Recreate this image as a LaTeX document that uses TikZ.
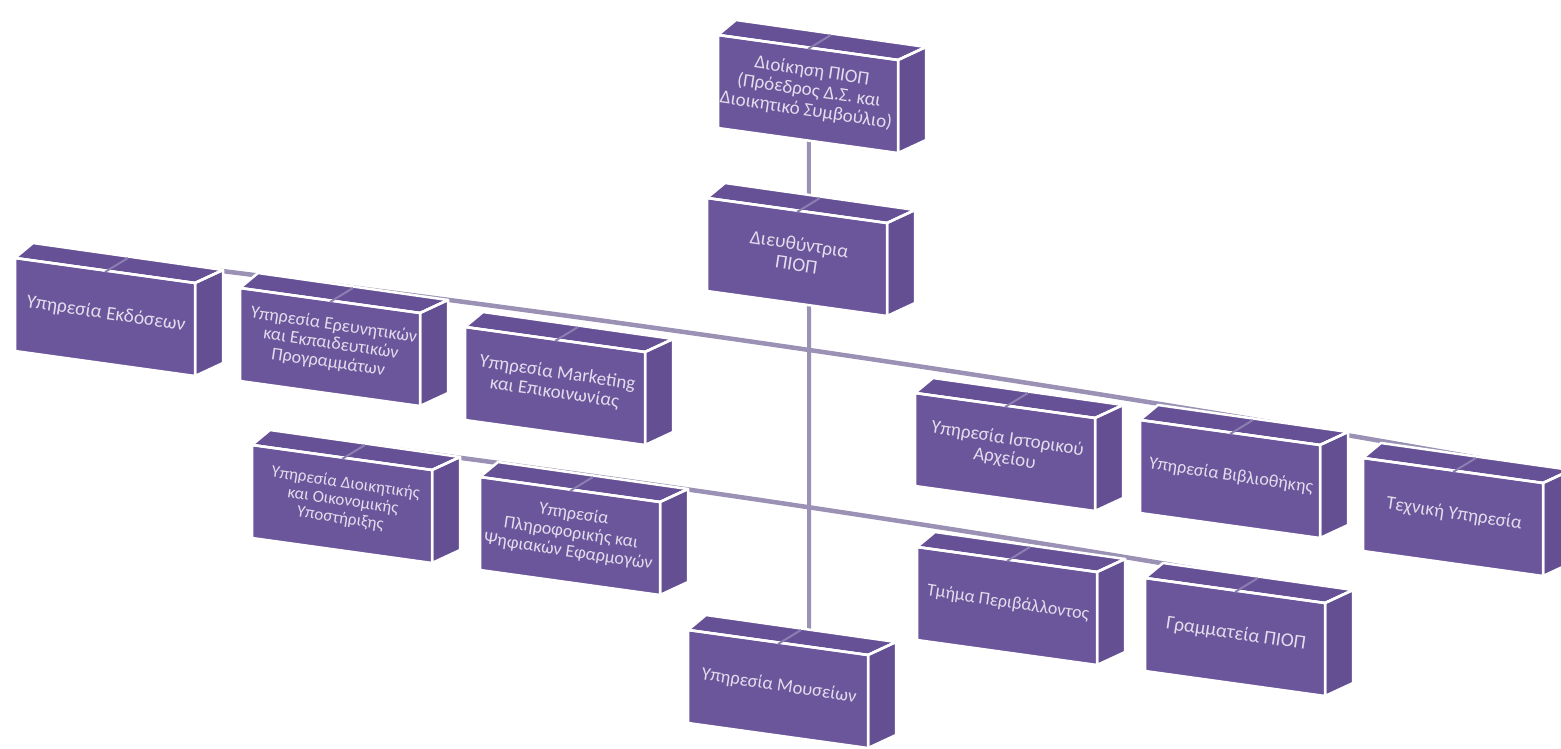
\documentclass[tikz,border=0pt]{standalone}
\usepackage{fontspec}
\setmainfont{Carlito}
\usepackage{tikz}
\usetikzlibrary{calc}
\usepackage{xcolor}

\definecolor{boxfront}{HTML}{6B559B}
\definecolor{boxtopc}{HTML}{665196}
\definecolor{boxside}{HTML}{644F93}
\definecolor{linkc}{HTML}{9A91B4}
\definecolor{dropc}{HTML}{8C7EB1}
\definecolor{labelc}{HTML}{E2DCEC}

\pgfdeclarelayer{back}
\pgfsetlayers{back,main}

\tikzset{
  face/.style={draw=white, line width=2.5pt, line join=round},
  boxtext/.style={text=labelc, align=center, rotate=-8.5, inner sep=0pt},
  bus/.style={draw=linkc, line width=4.5pt},
  trunk/.style={draw=linkc, line width=4pt},
  drop/.style={draw=dropc, line width=2pt}
}

% [font size] name, x, y (front top left corner), text
\newcommand{\orgbox}[5][18]{%
  \begin{scope}[shift={(#3,-#4)}]
    \fill[face, fill=boxtopc] (0,0) -- (18,15) -- (208,-12) -- (180,-25) -- cycle;
    \fill[face, fill=boxside] (180,-25) -- (208,-12) -- (208,-105) -- (180,-118) -- cycle;
    \fill[face, fill=boxfront] (0,0) -- (180,-25) -- (180,-118) -- (0,-93) -- cycle;
    \draw[face] (0,0) -- (180,-25) -- (208,-12);
    \draw[face] (180,-25) -- (180,-118);
    \draw[drop] (90,-14) -- (113,0);
    \node[boxtext, font=\fontsize{#1}{1.05\dimexpr#1pt\relax}\selectfont] (#2) at (91,-56) {#5};
  \end{scope}}

\begin{document}
\begin{tikzpicture}[x=1pt, y=1pt]
  \clip (0,0) rectangle (1561,-749);

  \orgbox[19]{dioikisi}{718}{35}{Διοίκηση ΠΙΟΠ\\(Πρόεδρος Δ.Σ. και\\Διοικητικό Συμβούλιο)}
  \orgbox[19.5]{dieuthyntria}{707}{198}{Διευθύντρια\\ΠΙΟΠ}

  \orgbox[19.5]{ekdoseis}{15}{258}{Υπηρεσία Εκδόσεων}
  \orgbox[18]{erevna}{240}{288}{Υπηρεσία Ερευνητικών\\και Εκπαιδευτικών\\Προγραμμάτων}
  \orgbox[19]{marketing}{465}{327}{Υπηρεσία Marketing\\και Επικοινωνίας}
  \orgbox[19]{archeio}{915}{393}{Υπηρεσία Ιστορικού\\Αρχείου}
  \orgbox[18]{vivliothiki}{1140}{420}{Υπηρεσία Βιβλιοθήκης}
  \orgbox[19]{techniki}{1363}{458}{Τεχνική Υπηρεσία}

  \orgbox[17]{dioikitiki}{252}{445}{Υπηρεσία Διοικητικής\\και Οικονομικής\\Υποστήριξης}
  \orgbox[18]{pliroforiki}{480}{477}{Υπηρεσία\\Πληροφορικής και\\Ψηφιακών Εφαρμογών}
  \orgbox[18]{perivallon}{917}{547}{Τμήμα Περιβάλλοντος}
  \orgbox[19.5]{grammateia}{1145}{578}{Γραμματεία ΠΙΟΠ}

  \orgbox[18.5]{mouseia}{688}{630}{Υπηρεσία Μουσείων}

  % connectors behind the boxes
  \coordinate (upper-w) at (30,-248);
  \coordinate (upper-e) at (1545,-470);
  \coordinate (lower-w) at (268,-433);
  \coordinate (lower-e) at (1330,-592);

  \begin{pgfonlayer}{back}
    \draw[trunk] (dioikisi) -- (dioikisi |- mouseia);
    \draw[bus] (upper-w) .. controls (562,-310) and (1071,-384) .. (upper-e);
    \draw[bus] (lower-w) .. controls (613,-476) and (971,-529) .. (lower-e);
  \end{pgfonlayer}
\end{tikzpicture}
\end{document}
